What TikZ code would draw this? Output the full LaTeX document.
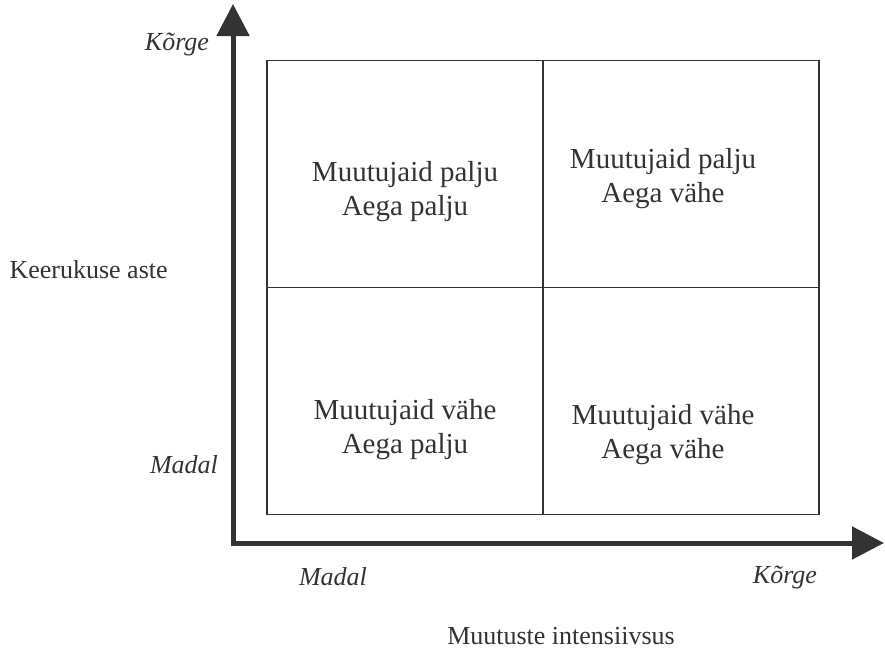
\documentclass[tikz,border=0pt]{standalone}
\usepackage{fontspec}
\setmainfont{Liberation Serif}
\usetikzlibrary{arrows.meta}
\definecolor{ink}{HTML}{333333}
\begin{document}
\begin{tikzpicture}[x=1pt,y=-1pt,
  axis/.style={draw=ink,line width=5pt,-{Triangle[length=32pt,width=32pt]}},
  cell/.style={draw=ink,line width=1.8pt,minimum width=276pt,minimum height=227pt,inner sep=0pt},
  celltext/.style={text=ink,font=\fontsize{29}{34}\selectfont,align=center},
  lbl/.style={text=ink,font=\fontsize{26}{30}\selectfont\itshape},
  ttl/.style={text=ink,font=\fontsize{26}{30}\selectfont}]
\useasboundingbox (0,0) rectangle (885,653);
\coordinate (o) at (233,543);
\coordinate (ytip) at (233,4);
\coordinate (xtip) at (884,543);
\draw[axis] ([yshift=-2.5pt]o) -- (ytip);
\draw[axis] ([xshift=-2.5pt]o) -- (xtip);
\node[cell] (tl) at (405,174) {};
\node[cell] (tr) at (681,174) {};
\node[cell] (bl) at (405,401) {};
\node[cell] (br) at (681,401) {};
\node[celltext] (tlt) at (405,192) {Muutujaid palju\\Aega palju};
\node[celltext] (trt) at (663,179) {Muutujaid palju\\Aega vähe};
\node[celltext] (blt) at (405,430) {Muutujaid vähe\\Aega palju};
\node[celltext] (brt) at (663,435) {Muutujaid vähe\\Aega vähe};
\node[lbl] (yk) at (177,45) {Kõrge};
\node[lbl] (ym) at (184,465) {Madal};
\node[lbl] (xm) at (333,577) {Madal};
\node[lbl] (xk) at (785,577) {Kõrge};
\node[ttl,anchor=west] (ya) at (6,270) {Keerukuse aste};
\node[ttl] (xa) at (561,636) {Muutuste intensiivsus};
\end{tikzpicture}
\end{document}
